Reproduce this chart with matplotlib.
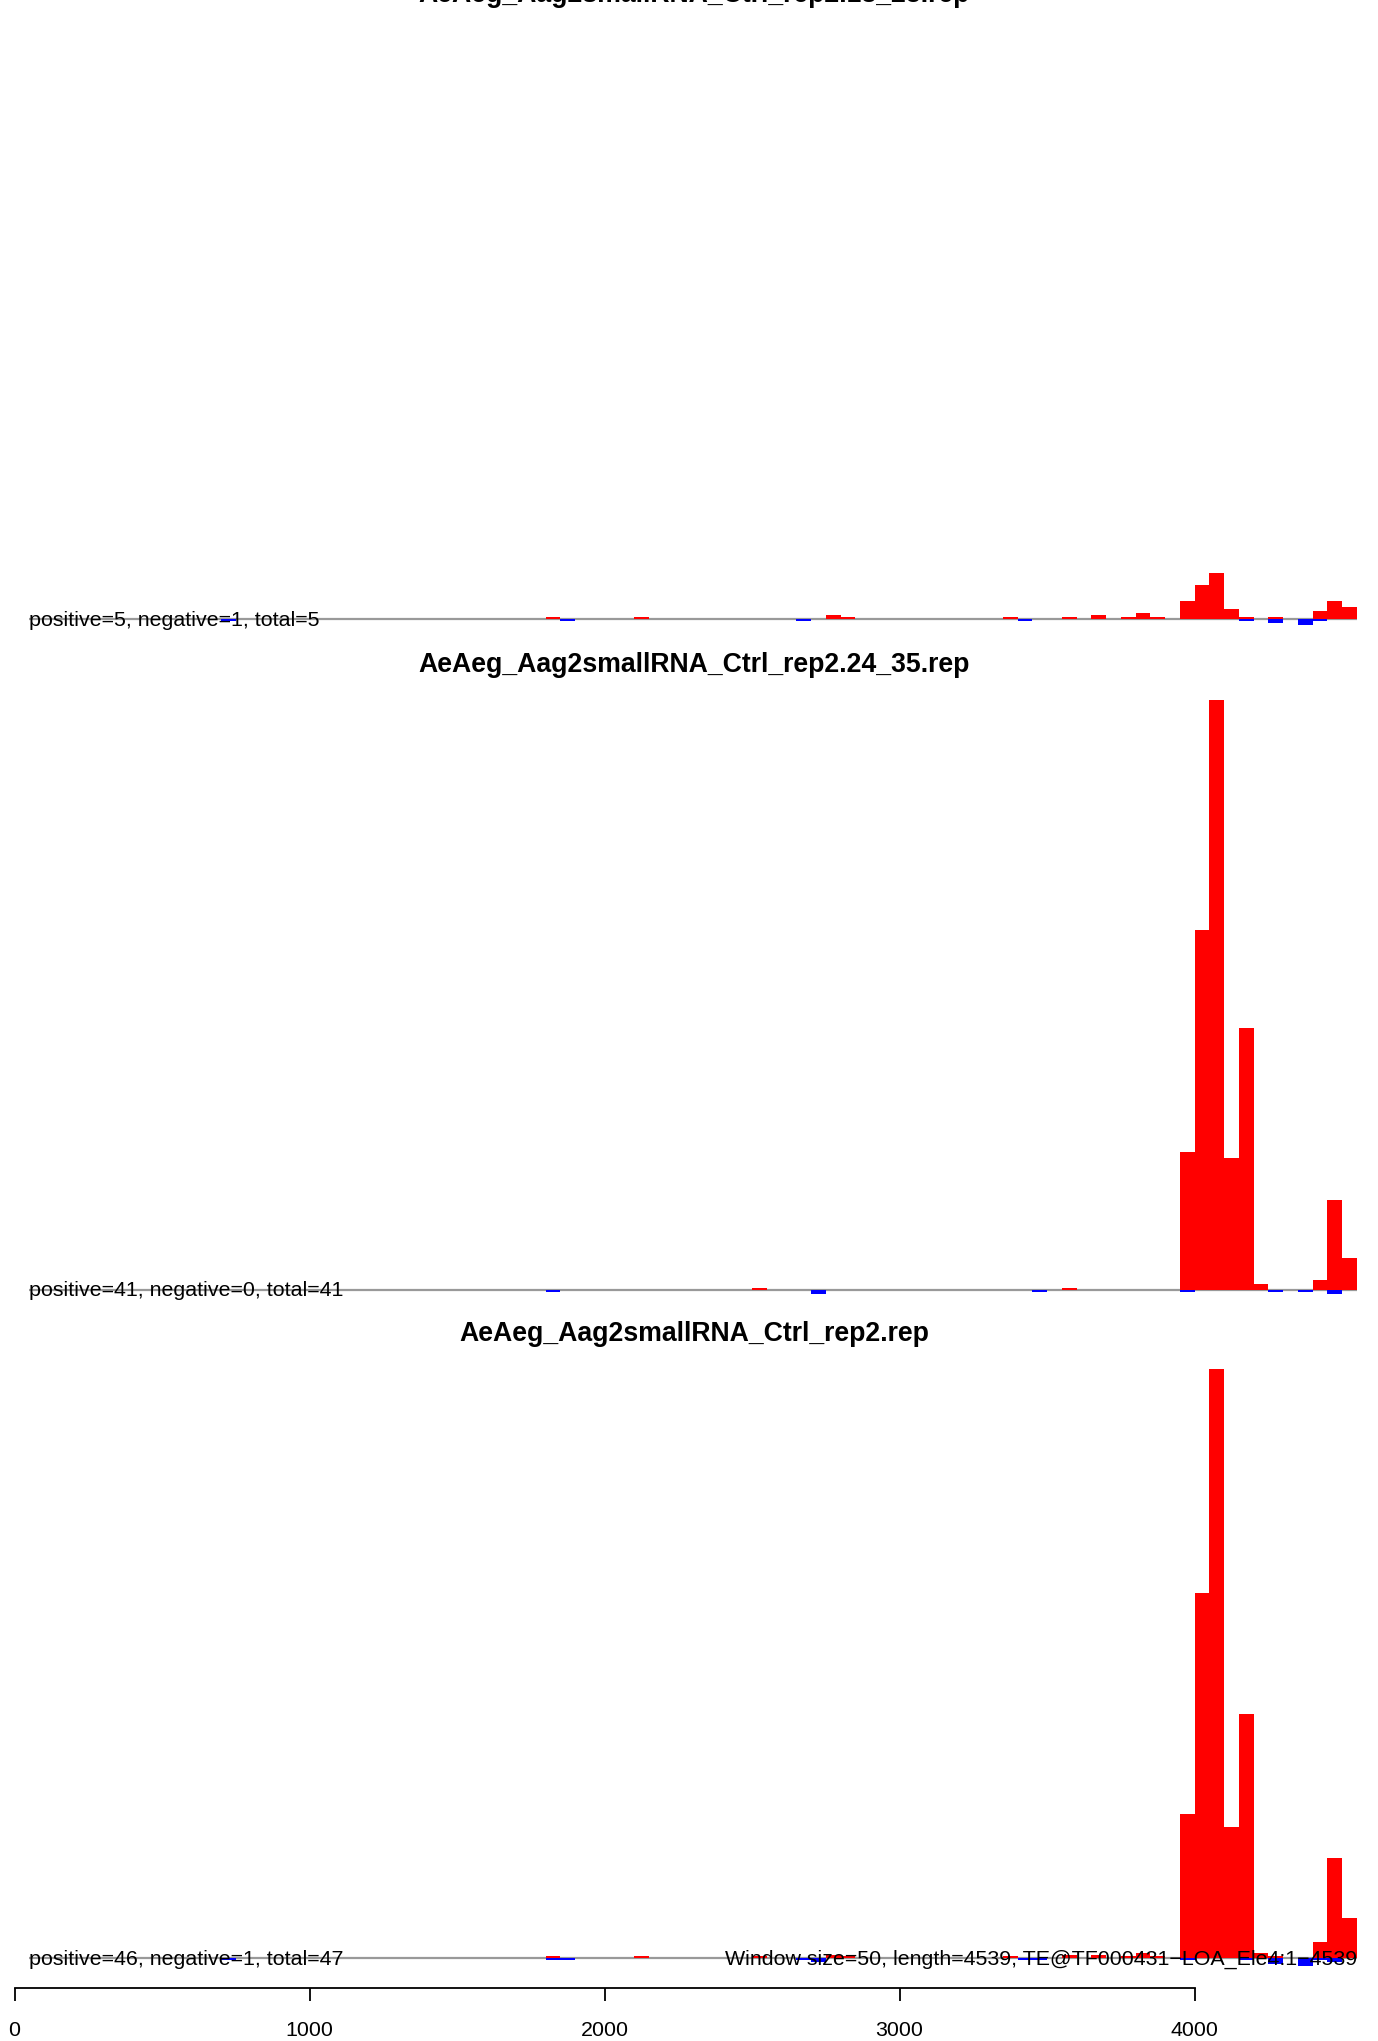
import matplotlib
matplotlib.use('Agg')
import matplotlib.pyplot as plt

plt.rcParams['font.family'] = ['Liberation Sans', 'DejaVu Sans']

# window size 50, bins given by their left edge
window = 50
seq_len = 4539

titles = ["AeAeg_Aag2smallRNA_Ctrl_rep2.18_23.rep",
          "AeAeg_Aag2smallRNA_Ctrl_rep2.24_35.rep",
          "AeAeg_Aag2smallRNA_Ctrl_rep2.rep"]
stats = ["positive=5, negative=1, total=5",
         "positive=41, negative=0, total=41",
         "positive=46, negative=1, total=47"]
footer = "Window size=50, length=4539, TE@TF000431\u2212LOA_Ele4:1\u22124539"

# 18_23 reads
p1_pos_x = [1800, 2100, 2750, 2800, 3350, 3550, 3650, 3750, 3800, 3850,
            3950, 4000, 4050, 4100, 4150, 4250, 4400, 4450, 4500]
p1_pos_y = [1, 1, 2, 1, 1, 1, 2, 1, 3, 1, 9, 17, 23, 5, 1, 1, 4, 9, 6]
p1_neg_x = [700, 1850, 2650, 3400, 4150, 4250, 4350, 4400]
p1_neg_y = [-1, -1, -1, -1, -1, -2, -3, -1]

# 24_35 reads
p2_pos_x = [2500, 3550, 3950, 4000, 4050, 4100, 4150, 4200, 4400, 4450, 4500]
p2_pos_y = [1, 1, 69, 180, 295, 66, 131, 3, 5, 45, 16]
p2_neg_x = [1800, 2700, 3450, 3950, 4250, 4350, 4450]
p2_neg_y = [-1, -2, -1, -1, -1, -1, -2]

# all reads
p3_pos_x = [1800, 2100, 2500, 2750, 2800, 3350, 3550, 3650, 3750, 3800, 3850,
            3950, 4000, 4050, 4100, 4150, 4200, 4250, 4400, 4450, 4500]
p3_pos_y = [1, 1, 1, 2, 1, 1, 2, 2, 1, 3, 1, 78, 197, 318, 71, 132, 3, 1, 9, 54, 22]
p3_neg_x = [700, 1800, 1850, 2650, 2700, 3400, 3450, 3950, 4150, 4250, 4350, 4400, 4450]
p3_neg_y = [-1, -1, -1, -1, -2, -1, -1, -1, -1, -3, -4, -1, -2]

ytops = [300, 300, 324]
xticks = [0, 1000, 2000, 3000, 4000]

panels = [(p1_pos_x, p1_pos_y, p1_neg_x, p1_neg_y),
          (p2_pos_x, p2_pos_y, p2_neg_x, p2_neg_y),
          (p3_pos_x, p3_pos_y, p3_neg_x, p3_neg_y)]

W, H = 1378, 2041
fig = plt.figure(figsize=(W / 100, H / 100), dpi=100)

baselines = [619.4, 1289.5, 1958.3]   # pixel rows of the zero line
above, below = 600, 30
left = 14.5
xmax = 4550
px_per_unit = 0.295
fs = 15.4

for i, (px, py, nx, ny) in enumerate(panels):
    b = baselines[i]
    ax = fig.add_axes([left / W, 1 - (b + below) / H,
                       xmax * px_per_unit / W, (above + below) / H])
    ax.set_xlim(0, xmax)
    ax.set_ylim(-ytops[i] * below / above, ytops[i])
    ax.hlines(0, 50, xmax, color='#999999', lw=1.6, zorder=1)
    ax.bar(px, py, width=window, align='edge', color='red', linewidth=0, zorder=2)
    ax.bar(nx, ny, width=window, align='edge', color='blue', linewidth=0, zorder=2)
    ax.text(50, -0.4 * ytops[i] / 300, stats[i], ha='left', va='center', fontsize=fs, zorder=3)
    ax.annotate(titles[i], xy=(0.5, 1), xycoords='axes fraction',
                xytext=(6.3, 17.6), textcoords='offset points',
                ha='center', va='center', fontsize=19.2, fontweight='bold')
    for s in ['top', 'right', 'left']:
        ax.spines[s].set_visible(False)
    ax.set_yticks([])
    if i < 2:
        ax.spines['bottom'].set_visible(False)
        ax.set_xticks([])
    else:
        ax.text(xmax, -0.4 * ytops[i] / 300, footer, ha='right', va='center',
                fontsize=fs, zorder=3)
        ax.spines['bottom'].set_bounds(0, 4000)
        ax.spines['bottom'].set_linewidth(1.3)
        ax.set_xticks(xticks)
        ax.set_xticklabels([str(t) for t in xticks])
        ax.tick_params(axis='x', direction='out', length=9.4, width=1.3,
                       pad=13.8, labelsize=fs)

fig.savefig('out.png', dpi=100, facecolor='white')
